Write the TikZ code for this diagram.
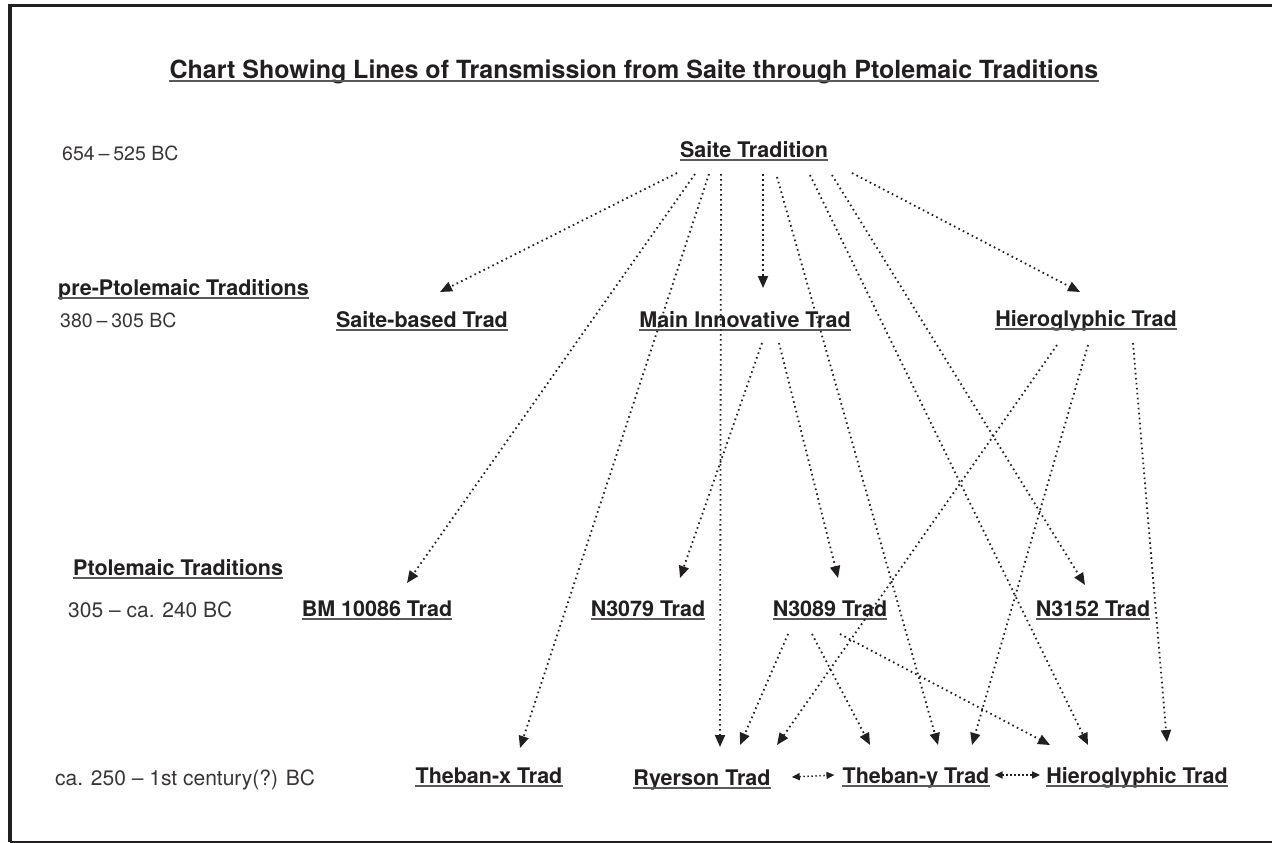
\documentclass[tikz,border=0pt]{standalone}
\usepackage{fontspec}
\setmainfont{TeX Gyre Heros}
\usetikzlibrary{arrows.meta}
\definecolor{ink}{HTML}{231F20}
\definecolor{ulc}{HTML}{5A5A5A}
\tikzset{
  lbl/.style={inner sep=0pt, anchor=base, text=ink, font=\fontsize{21.5}{24}\selectfont\bfseries},
  ttl/.style={lbl, font=\fontsize{25}{28}\selectfont\bfseries},
  datelbl/.style={inner sep=0pt, anchor=base west, text=ink!90, font=\fontsize{19.5}{24}\selectfont},
  datewide/.style={datelbl, font=\fontsize{21}{24}\selectfont},
  period/.style={inner sep=0pt, anchor=base west, text=ink, font=\fontsize{21.5}{24}\selectfont\bfseries},
  ul/.style={draw=ulc, line width=1.4pt},
  arr/.style={draw=ink, line width=1.8pt, dash pattern=on 1.6pt off 3.4pt, -{Triangle[length=12pt,width=10pt]}},
  barr/.style={draw=ink, line width=1.5pt, dash pattern=on 1.4pt off 2.6pt, {Triangle[length=8pt,width=7pt]}-{Triangle[length=8pt,width=7pt]}},
  frameline/.style={draw=ink}
}
\begin{document}
\begin{tikzpicture}[x=1pt,y=-1pt]
\useasboundingbox (0,0) rectangle (1272,843);
% frame
\draw[frameline, line width=3pt] (10,5.5) -- (1272,5.5);
\draw[frameline, line width=3.5pt] (10,4) -- (10,842);
\draw[frameline, line width=1.5pt] (10,842) -- (1272,842);

% title
\node[ttl] (title) at (634,78) {Chart Showing Lines of Transmission from Saite through Ptolemaic Traditions};

% left column
\node[datelbl] (d1) at (62,160) {654\hspace{0.2em}–\hspace{0.2em}525 BC};
\node[period] (pre) at (58,295) {pre-Ptolemaic Traditions};
\node[datelbl] (d2) at (60,327) {380\hspace{0.2em}–\hspace{0.2em}305 BC};
\node[period] (ptol) at (73,575) {Ptolemaic Traditions};
\node[datewide] (d3) at (68,617) {305 – ca. 240 BC};
\node[datewide] (d4) at (55,785) {ca. 250 – 1st century(?) BC};

% traditions
\node[lbl] (saite) at (754,157) {Saite Tradition};
\node[lbl] (sbased) at (422,327) {Saite-based Trad};
\node[lbl] (mainI) at (745,327) {Main Innovative Trad};
\node[lbl] (hieroA) at (1086,326) {Hieroglyphic Trad};
\node[lbl] (bm) at (377,616) {BM 10086 Trad};
\node[lbl] (nA) at (648,616) {N3079 Trad};
\node[lbl] (nB) at (830,616) {N3089 Trad};
\node[lbl] (nC) at (1093,616) {N3152 Trad};
\node[lbl] (thebx) at (489,783) {Theban-x Trad};
\node[lbl] (ryer) at (702,785) {Ryerson Trad};
\node[lbl] (theby) at (916,783) {Theban-y Trad};
\node[lbl] (hieroB) at (1137,783) {Hieroglyphic Trad};

% underlines
\foreach \n in {title,pre,ptol,saite,sbased,mainI,hieroA,bm,nA,nB,nC,thebx,ryer,theby,hieroB}
  \draw[ul] ([yshift=-3pt]\n.base west) -- ([yshift=-3pt]\n.base east);

% from Saite Tradition
\draw[arr] ([shift={(-77,16)}]saite.base) -- ([shift={(18,-35)}]sbased.base);
\draw[arr] ([shift={(-59,17)}]saite.base) -- ([shift={(30,-33)}]bm.base);
\draw[arr] ([shift={(-45,17)}]saite.base) -- ([shift={(31,-35)}]thebx.base);
\draw[arr] ([shift={(-33,17)}]saite.base) -- ([shift={(18,-38)}]ryer.base);
\draw[arr] ([shift={(9,17)}]saite.base) -- ([shift={(18,-39)}]mainI.base);
\draw[arr] ([shift={(23,20)}]saite.base) -- ([shift={(22,-38)}]theby.base);
\draw[arr] ([shift={(56,18)}]saite.base) -- ([shift={(-49,-38)}]hieroB.base);
\draw[arr] ([shift={(78,18)}]saite.base) -- ([shift={(-8,-31)}]nC.base);
\draw[arr] ([shift={(98,16)}]saite.base) -- ([shift={(-6,-34)}]hieroA.base);

% from Main Innovative Trad
\draw[arr] ([shift={(17,16)}]mainI.base) -- ([shift={(32,-38)}]nA.base);
\draw[arr] ([shift={(34,16)}]mainI.base) -- ([shift={(8,-38)}]nB.base);

% from Hieroglyphic Trad (pre-Ptolemaic)
\draw[arr] ([shift={(-29,19)}]hieroA.base) -- ([shift={(75,-40)}]ryer.base);
\draw[arr] ([shift={(2,19)}]hieroA.base) -- ([shift={(56,-38)}]theby.base);
\draw[arr] ([shift={(47,17)}]hieroA.base) -- ([shift={(30,-41)}]hieroB.base);

% from N3089 Trad
\draw[arr] ([shift={(-42,18)}]nB.base) -- ([shift={(38,-40)}]ryer.base);
\draw[arr] ([shift={(-18,18)}]nB.base) -- ([shift={(-46,-38)}]theby.base);
\draw[arr] ([shift={(10,18)}]nB.base) -- ([shift={(-87,-38)}]hieroB.base);

% bidirectional
\draw[barr] ([shift={(21,-8)}]ryer.base east) -- ([shift={(-8,-8)}]theby.base west);
\draw[barr] ([shift={(5,-8)}]theby.base east) -- ([shift={(-6,-8)}]hieroB.base west);
\end{tikzpicture}
\end{document}
